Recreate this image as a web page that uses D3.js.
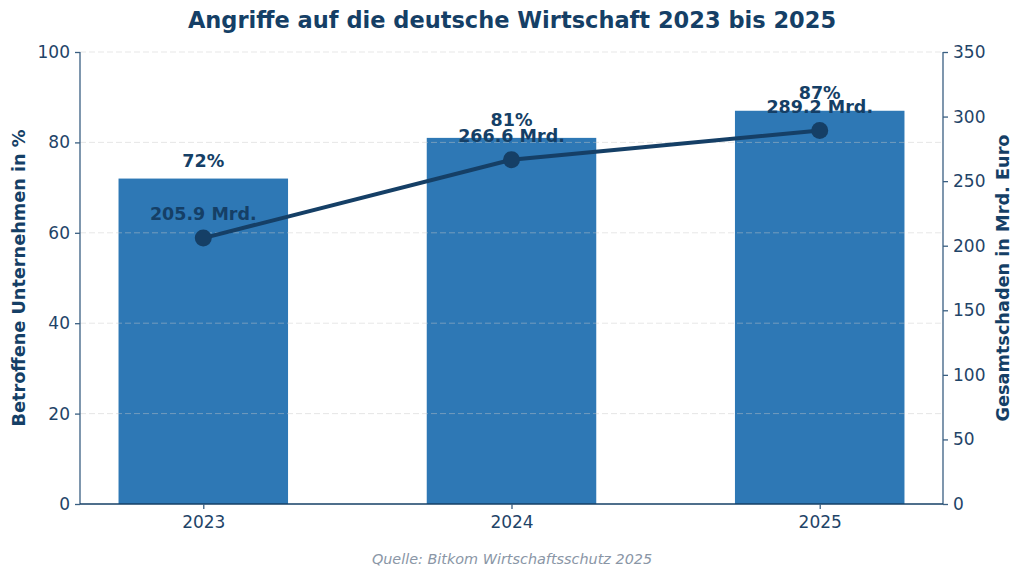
<!DOCTYPE html>
<html>
<head>
<meta charset="utf-8">
<script src="https://cdn.jsdelivr.net/npm/d3@7"></script>
<style>
  body { margin: 0; background: #fff; }
  svg { font-family: "DejaVu Sans", sans-serif; }
</style>
</head>
<body>
<svg id="chart" width="1024" height="578"></svg>
<script>
// data
var years = ["2023", "2024", "2025"];
var betroffen = [72, 81, 87];          // % of companies affected
var schaden = [205.9, 266.6, 289.2];   // total damage, bn euro
var leftTicks = [0, 20, 40, 60, 80, 100];
var rightTicks = [0, 50, 100, 150, 200, 250, 300, 350];

var navy = "#153f66", axisCol = "#3a5f82", barCol = "#2e78b5";

var svg = d3.select("#chart");
// note: "top" is taken by window.top, so plot* names
var plotL = 80, plotR = 943, plotT = 52, plotB = 504;

var x = d3.scaleLinear().domain([-0.4, 2.4]).range([plotL, plotR]);
var yL = d3.scaleLinear().domain([0, 100]).range([plotB, plotT]);
var yR = d3.scaleLinear().domain([0, 350]).range([plotB, plotT]);
var barW = x(0.55) - x(0);

// bars
svg.append("g").selectAll("rect")
  .data(betroffen)
  .join("rect")
  .attr("x", function(d, i) { return x(i) - barW / 2; })
  .attr("y", function(d) { return yL(d); })
  .attr("width", barW)
  .attr("height", function(d) { return plotB - yL(d); })
  .attr("fill", barCol);

// grid on top, faint
svg.append("g").selectAll("line")
  .data(leftTicks.slice(1))
  .join("line")
  .attr("x1", plotL).attr("x2", plotR)
  .attr("y1", function(d) { return yL(d); })
  .attr("y2", function(d) { return yL(d); })
  .attr("stroke", "#c8c8c8")
  .attr("stroke-opacity", 0.45)
  .attr("stroke-dasharray", "6,3");

// axes
var axL = svg.append("g").attr("transform", "translate(" + plotL + ",0)")
  .call(d3.axisLeft(yL).tickValues(leftTicks).tickSize(5).tickPadding(5));
var axR = svg.append("g").attr("transform", "translate(" + plotR + ",0)")
  .call(d3.axisRight(yR).tickValues(rightTicks).tickSize(5).tickPadding(5));
var axB = svg.append("g").attr("transform", "translate(0," + plotB + ")")
  .call(d3.axisBottom(x).tickValues([0, 1, 2]).tickFormat(function(d) { return years[d]; })
    .tickSize(5).tickPadding(7));

[axL, axR, axB].forEach(function(a) {
  a.selectAll(".domain").attr("stroke", axisCol).attr("stroke-width", 1.3);
  a.selectAll(".tick line").attr("stroke", axisCol).attr("stroke-width", 1.3);
  a.selectAll("text").attr("fill", "#1f4468").style("font-size", "17px")
    .style("font-family", "DejaVu Sans, sans-serif");
});
axL.select(".domain").attr("d", "M0," + plotB + "V" + plotT);
axR.select(".domain").attr("d", "M0," + plotB + "V" + plotT);
axB.select(".domain").attr("d", "M" + plotL + ",0H" + plotR).attr("stroke", navy);

// line for damage
var line = d3.line()
  .x(function(d, i) { return x(i); })
  .y(function(d) { return yR(d); });

svg.append("path")
  .datum(schaden)
  .attr("d", line)
  .attr("fill", "none")
  .attr("stroke", navy)
  .attr("stroke-width", 4);

svg.append("g").selectAll("circle")
  .data(schaden)
  .join("circle")
  .attr("cx", function(d, i) { return x(i); })
  .attr("cy", function(d) { return yR(d); })
  .attr("r", 8.5)
  .attr("fill", navy);

// value labels
svg.append("g").selectAll("text")
  .data(betroffen)
  .join("text")
  .attr("x", function(d, i) { return x(i); })
  .attr("y", function(d) { return yL(d) - 12; })
  .attr("text-anchor", "middle")
  .attr("fill", navy)
  .style("font-size", "17.5px")
  .style("font-weight", "bold")
  .text(function(d) { return d + "%"; });

svg.append("g").selectAll("text")
  .data(schaden)
  .join("text")
  .attr("x", function(d, i) { return x(i); })
  .attr("y", function(d) { return yR(d) - 18; })
  .attr("text-anchor", "middle")
  .attr("fill", navy)
  .style("font-size", "17.5px")
  .style("font-weight", "bold")
  .text(function(d) { return d.toFixed(1) + " Mrd."; });

// titles
svg.append("text")
  .attr("x", 512).attr("y", 28)
  .attr("text-anchor", "middle")
  .attr("fill", navy)
  .style("font-size", "22.5px")
  .style("font-weight", "bold")
  .text("Angriffe auf die deutsche Wirtschaft 2023 bis 2025");

svg.append("text")
  .attr("transform", "translate(25," + ((plotT + plotB) / 2) + ") rotate(-90)")
  .attr("text-anchor", "middle")
  .attr("fill", navy)
  .style("font-size", "17.7px")
  .style("font-weight", "bold")
  .text("Betroffene Unternehmen in %");

svg.append("text")
  .attr("transform", "translate(1009," + ((plotT + plotB) / 2) + ") rotate(-90)")
  .attr("text-anchor", "middle")
  .attr("fill", navy)
  .style("font-size", "17.7px")
  .style("font-weight", "bold")
  .text("Gesamtschaden in Mrd. Euro");

svg.append("text")
  .attr("x", 512).attr("y", 564)
  .attr("text-anchor", "middle")
  .attr("fill", "#8a96a6")
  .style("font-size", "14.4px")
  .style("font-style", "italic")
  .text("Quelle: Bitkom Wirtschaftsschutz 2025");
</script>
</body>
</html>
